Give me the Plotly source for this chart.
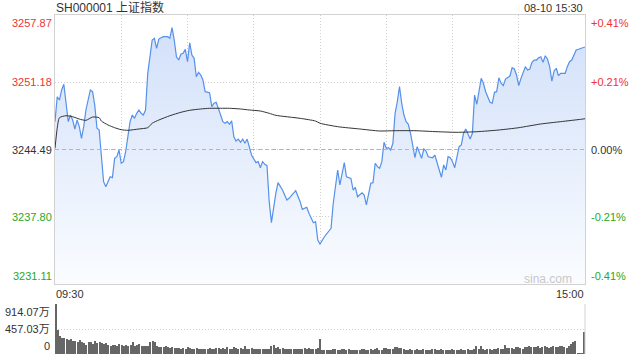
import plotly.graph_objects as go

# ---------------- data ----------------
title_text = "SH000001 上证指数"
stamp_text = "08-10 15:30"
prev_close = 3244.49

price_minute = [
    0, 1, 2, 3, 4, 5, 6, 7, 8, 9,
    10, 11, 12, 13, 14, 16, 17, 18, 19, 20,
    21, 22, 23, 24, 25, 26, 27, 28, 29, 30,
    31, 32, 33, 34, 35, 36, 37, 38, 39, 40,
    41, 42, 44, 45, 46, 47, 48, 49, 51, 52,
    53, 54, 55, 56, 57, 58, 59, 60, 61, 62,
    63, 64, 65, 66, 67, 68, 70, 71, 72, 73,
    75, 76, 77, 78, 79, 80, 81, 82, 83, 84,
    85, 86, 87, 88, 89, 91, 92, 93, 94, 95,
    96, 97, 98, 100, 101, 103, 105, 106, 108, 109,
    111, 112, 114, 115, 117, 118, 119, 120, 122, 125,
    126, 128, 129, 131, 132, 134, 135, 136, 137, 139,
    140, 141, 143, 144, 145, 146, 147, 148, 149, 150,
    151, 152, 153, 154, 155, 156, 157, 158, 159, 160,
    161, 162, 163, 164, 165, 166, 167, 168, 169, 171,
    172, 173, 174, 175, 176, 177, 178, 179, 180, 181,
    182, 183, 184, 185, 186, 187, 188, 189, 190, 191,
    192, 193, 194, 195, 197, 198, 199, 200, 201, 202,
    203, 204, 206, 207, 208, 209, 210, 211, 213, 214,
    215, 216, 217, 218, 219, 220, 221, 222, 223, 224,
    225, 226, 227, 228, 229, 230, 231, 232, 233, 234,
    236, 237, 238, 240,
]
price_value = [
    3247.26, 3249.74, 3249.41, 3250.41, 3250.98, 3248.91, 3247.26, 3247.92, 3247.42, 3246.53,
    3247.42, 3246.76, 3245.60, 3246.76, 3248.42, 3250.41, 3250.24, 3248.91, 3246.60, 3246.43,
    3243.94, 3241.29, 3240.79, 3241.29, 3241.78, 3241.69, 3243.61, 3243.77, 3244.44, 3243.12,
    3243.28, 3244.27, 3245.60, 3247.26, 3247.92, 3247.59, 3248.09, 3248.42, 3248.09, 3247.92,
    3248.42, 3252.07, 3255.38, 3255.55, 3254.56, 3255.48, 3255.61, 3255.71, 3255.71, 3255.55,
    3256.61, 3255.38, 3253.72, 3253.39, 3253.96, 3254.06, 3254.46, 3253.22, 3255.11, 3253.89,
    3253.56, 3251.73, 3252.17, 3251.90, 3251.40, 3250.24, 3250.14, 3248.75, 3249.09, 3249.19,
    3247.92, 3247.26, 3247.10, 3247.26, 3247.00, 3247.33, 3245.76, 3245.34, 3245.53, 3245.21,
    3245.53, 3245.11, 3245.53, 3244.61, 3243.94, 3243.18, 3243.28, 3242.68, 3243.28, 3243.02,
    3242.88, 3239.30, 3237.21, 3240.13, 3241.19, 3240.46, 3239.47, 3239.63, 3240.19, 3240.39,
    3239.30, 3238.54, 3238.74, 3238.14, 3237.21, 3237.31, 3235.49, 3235.09, 3235.81, 3236.65,
    3239.14, 3242.45, 3240.96, 3243.18, 3241.78, 3241.62, 3240.46, 3240.73, 3239.79, 3240.19,
    3239.96, 3238.97, 3241.13, 3241.19, 3243.12, 3242.78, 3242.62, 3243.28, 3245.21, 3244.61,
    3244.67, 3244.44, 3245.11, 3248.09, 3249.24, 3250.74, 3249.09, 3247.92, 3247.26, 3247.00,
    3246.10, 3244.87, 3243.67, 3244.77, 3244.11, 3243.61, 3244.54, 3244.34, 3243.77, 3243.67,
    3243.94, 3243.28, 3242.45, 3241.72, 3242.95, 3242.45, 3243.77, 3243.67, 3243.28, 3242.68,
    3243.94, 3244.77, 3244.94, 3246.10, 3246.53, 3246.10, 3245.53, 3246.10, 3249.91, 3248.99,
    3250.41, 3251.57, 3251.08, 3250.24, 3249.19, 3249.09, 3250.18, 3250.24, 3251.63, 3251.08,
    3250.84, 3251.50, 3251.80, 3252.63, 3252.50, 3251.90, 3250.84, 3251.57, 3252.73, 3252.40,
    3252.50, 3253.16, 3253.39, 3253.39, 3253.62, 3253.72, 3253.16, 3253.82, 3253.49, 3252.73,
    3251.30, 3252.30, 3252.57, 3251.83, 3252.07, 3252.07, 3252.07, 3252.73, 3253.22, 3253.39,
    3254.39, 3254.46, 3254.56, 3254.69,
]

avg_minute = [0, 1, 2, 5, 8, 11, 14, 17, 20, 21,
              24, 27, 30, 33, 38, 42, 44, 47, 52, 57,
              61, 66, 70, 75, 79, 84, 88, 93, 97, 100,
              111, 118, 120, 128, 138, 147, 154, 163, 173, 182,
              191, 201, 210, 220, 229, 238, 240]
avg_value = [3244.61, 3246.60, 3247.65, 3247.85, 3247.75, 3247.52, 3247.39, 3247.72, 3247.65, 3247.32,
             3246.93, 3246.66, 3246.46, 3246.40, 3246.53, 3246.66, 3247.10, 3247.42, 3247.85, 3248.19,
             3248.39, 3248.52, 3248.59, 3248.59, 3248.59, 3248.52, 3248.42, 3248.32, 3248.09, 3247.89,
             3247.59, 3247.32, 3247.10, 3246.76, 3246.53, 3246.33, 3246.36, 3246.36, 3246.26, 3246.20,
             3246.26, 3246.43, 3246.66, 3247.03, 3247.26, 3247.49, 3247.55]

# volume per minute (万手)
volume = [
    914, 445, 335, 292, 286, 280, 250, 274, 244, 232,
    225, 250, 213, 201, 171, 213, 225, 189, 232, 201,
    213, 201, 189, 201, 165, 152, 165, 171, 152, 189,
    165, 152, 165, 152, 165, 213, 152, 165, 189, 152,
    140, 140, 152, 225, 232, 225, 140, 128, 128, 122,
    140, 128, 110, 122, 110, 110, 104, 98, 110, 91,
    128, 104, 98, 98, 110, 91, 91, 98, 91, 98,
    104, 91, 98, 110, 110, 91, 104, 98, 128, 91,
    91, 122, 104, 91, 110, 98, 140, 91, 98, 104,
    91, 98, 91, 91, 98, 91, 91, 98, 140, 165,
    110, 128, 98, 104, 91, 91, 98, 91, 91, 98,
    91, 91, 98, 104, 91, 104, 91, 91, 98, 104,
    280,
    67, 73, 79, 67, 73, 91, 98, 79, 73, 85,
    91, 73, 85, 79, 67, 73, 79, 67, 85, 91,
    79, 73, 85, 79, 98, 104, 73, 79, 104, 110,
    98, 91, 85, 122, 128, 116, 104, 85, 73, 79,
    85, 73, 79, 91, 79, 73, 85, 79, 73, 79,
    85, 91, 73, 79, 85, 73, 79, 79, 73, 85,
    79, 73, 79, 85, 79, 73, 85, 79, 73, 85,
    152, 91, 140, 85, 79, 91, 85, 79, 98, 91,
    104, 91, 85, 171, 110, 104, 110, 98, 122, 128,
    110, 98, 128, 122, 140, 128, 134, 122, 146, 116,
    134, 140, 122, 110, 128, 146, 134, 122, 140, 152,
    134, 116, 146, 189, 213, 232,
    12, 12, 12,
    397,
]
minutes = list(range(len(volume)))

price_ticks = [3257.87, 3251.18, 3244.49, 3237.80, 3231.11]
price_labels = ["3257.87", "3251.18", "3244.49", "3237.80", "3231.11"]
pct_labels = ["+0.41%", "+0.21%", "0.00%", "-0.21%", "-0.41%"]
vol_ticks = [914.07, 457.03, 0]
vol_labels = ["914.07万", "457.03万", "0"]
time_ticks = [0, 30, 60, 90, 120, 150, 180, 210, 240]
time_labels = ["09:30", "15:00"]

assert len(price_minute) == len(price_value)
assert len(avg_minute) == len(avg_value)
assert len(volume) == 241

# ---------------- style ----------------
RED = "#f03232"
GREEN = "#28a828"
DARK = "#333333"
GRID = "#cfcfcf"
BORDER = "#d2d2d2"
FONT = "Arial, 'Liberation Sans', 'Noto Sans CJK SC', sans-serif"
label_colors = [RED, RED, DARK, GREEN, GREEN]

W, H = 640, 360
ML, MR, MT, MB = 55, 55, 15, 6
plot_h = H - MT - MB
main_bottom_px = 284
vol_top_px = 304
main_dom = [(H - MB - main_bottom_px) / plot_h, 1.0]
vol_dom = [0.0, (H - MB - vol_top_px) / plot_h]


def paper_y(px):
    return (H - MB - px) / plot_h


fig = go.Figure()

fig.add_trace(go.Scatter(
    x=price_minute, y=price_value, mode="lines",
    line=dict(color="#5591ea", width=1.2),
    fill="tozeroy",
    fillgradient=dict(type="vertical",
                      colorscale=[[0, "rgba(250,252,255,1)"], [1, "rgba(208,223,249,1)"]],
                      start=price_ticks[-1], stop=price_ticks[0]),
    xaxis="x", yaxis="y", hoverinfo="skip", showlegend=False,
))
fig.add_trace(go.Scatter(
    x=avg_minute, y=avg_value, mode="lines",
    line=dict(color="#333333", width=1, shape="spline", smoothing=0.6),
    xaxis="x", yaxis="y", hoverinfo="skip", showlegend=False,
))
fig.add_trace(go.Bar(
    x=minutes, y=volume, width=0.5,
    marker=dict(color="#666666", line=dict(width=0)),
    xaxis="x2", yaxis="y2", hoverinfo="skip", showlegend=False,
))

annotations = []
for v, lab, col in zip(price_ticks, price_labels, label_colors):
    anchor = "top" if v == price_ticks[0] else ("bottom" if v == price_ticks[-1] else "middle")
    annotations.append(dict(x=0, xref="paper", y=v, yref="y", text=lab, showarrow=False,
                            xanchor="right", yanchor=anchor, xshift=-1,
                            font=dict(size=11, color=col, family=FONT)))
for v, lab, col in zip(price_ticks, pct_labels, label_colors):
    anchor = "top" if v == price_ticks[0] else ("bottom" if v == price_ticks[-1] else "middle")
    annotations.append(dict(x=1, xref="paper", y=v, yref="y", text=lab, showarrow=False,
                            xanchor="left", yanchor=anchor, xshift=4,
                            font=dict(size=11, color=col, family=FONT)))
for v, lab in zip(vol_ticks, vol_labels):
    anchor = "top" if v == vol_ticks[0] else ("bottom" if v == 0 else "middle")
    annotations.append(dict(x=0, xref="paper", y=v, yref="y2", text=lab, showarrow=False,
                            xanchor="right", yanchor=anchor, xshift=-3,
                            font=dict(size=11, color=DARK, family=FONT)))
annotations += [
    dict(x=0, xref="paper", y=paper_y(7.5), yref="paper", text=title_text, showarrow=False,
         xanchor="left", yanchor="middle", xshift=-1, font=dict(size=12, color=DARK, family=FONT)),
    dict(x=1, xref="paper", y=paper_y(7.5), yref="paper", text=stamp_text, showarrow=False,
         xanchor="right", yanchor="middle", xshift=0, font=dict(size=11, color=DARK, family=FONT)),
    dict(x=0, xref="paper", y=paper_y(294), yref="paper", text=time_labels[0], showarrow=False,
         xanchor="left", yanchor="middle", xshift=-1, font=dict(size=11, color=DARK, family=FONT)),
    dict(x=1, xref="paper", y=paper_y(294), yref="paper", text=time_labels[1], showarrow=False,
         xanchor="right", yanchor="middle", xshift=1, font=dict(size=11, color=DARK, family=FONT)),
    dict(x=1, xref="paper", y=paper_y(279), yref="paper", text="sina.com", showarrow=False,
         xanchor="right", yanchor="middle", xshift=-11, font=dict(size=12, color="#c8c8c8", family=FONT)),
]

shapes = [
    dict(type="line", xref="x domain", x0=0, x1=1, yref="y", y0=prev_close, y1=prev_close,
         line=dict(color="#f2a27a", width=1, dash="4px,3px")),
    dict(type="line", xref="paper", x0=1, x1=1, yref="paper", y0=vol_dom[0], y1=vol_dom[1],
         line=dict(color=BORDER, width=1)),
]

fig.update_layout(
    width=W, height=H,
    margin=dict(l=ML, r=MR, t=MT, b=MB, pad=0),
    paper_bgcolor="white", plot_bgcolor="white",
    showlegend=False, bargap=0,
    font=dict(family=FONT, size=11, color=DARK),
    xaxis=dict(domain=[0, 1], range=[0, 240], anchor="y", tickvals=time_ticks,
               showticklabels=False, ticks="", showgrid=True, gridcolor=GRID, griddash="1px,2px",
               gridwidth=1, zeroline=False, showline=True, mirror=True, linecolor=BORDER, linewidth=1),
    yaxis=dict(domain=main_dom, range=[price_ticks[-1], price_ticks[0]], anchor="x",
               tickvals=price_ticks, showticklabels=False, ticks="", showgrid=True,
               gridcolor=GRID, griddash="1px,2px", gridwidth=1, zeroline=False,
               showline=True, mirror=True, linecolor=BORDER, linewidth=1),
    xaxis2=dict(domain=[0, 1], range=[-0.3, 240.3], anchor="y2", showticklabels=False,
                ticks="", showgrid=False, zeroline=False, showline=False),
    yaxis2=dict(domain=vol_dom, range=[0, vol_ticks[0]], anchor="x2", tickvals=vol_ticks[:2],
                showticklabels=False, ticks="", showgrid=True, gridcolor=GRID, griddash="1px,2px",
                gridwidth=1, zeroline=False, showline=False),
    annotations=annotations,
    shapes=shapes,
)

fig.write_html("out.html", config={"displayModeBar": False},
               post_script="document.body.style.margin='0';document.body.style.overflow='hidden';")
